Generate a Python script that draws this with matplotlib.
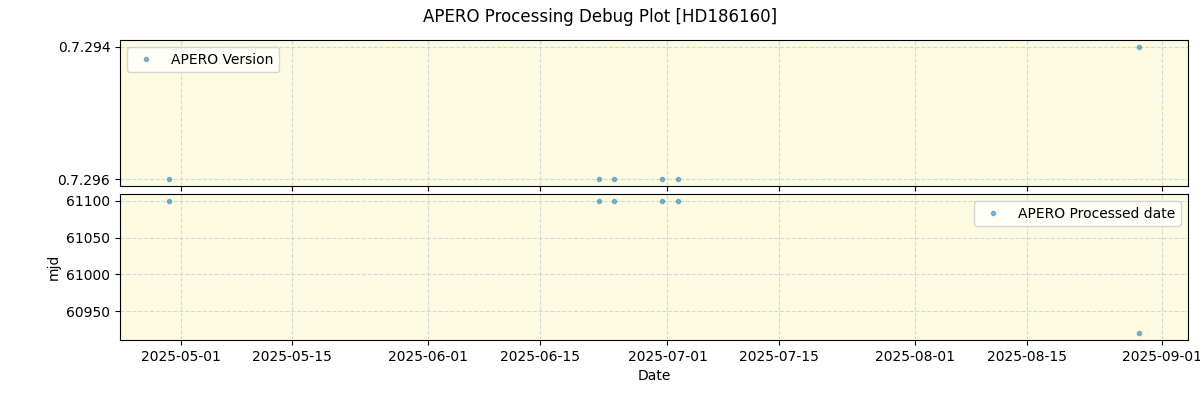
import matplotlib
matplotlib.use('Agg')
import matplotlib.pyplot as plt
import numpy as np
import pandas as pd

dates = pd.to_datetime(['2025-04-29 12:00', '2025-06-22 10:00', '2025-06-24 08:00',
                        '2025-06-30 08:00', '2025-07-02 08:00', '2025-08-29 03:00'])
versions = ['0.7.296', '0.7.296', '0.7.296', '0.7.296', '0.7.296', '0.7.294']
processed_mjd = [61100, 61100, 61100, 61100, 61100, 60920]

fig, axes = plt.subplots(2, 1, figsize=(12, 4), dpi=100, sharex=True)
fig.subplots_adjust(left=0.1, right=0.99, top=0.9, bottom=0.15, hspace=0.055)
fig.suptitle('APERO Processing Debug Plot [HD186160]', y=0.98)

bg = '#fcfbe2'

ax = axes[0]
ax.plot(dates, versions, ls='none', marker='o', ms=3, color='tab:blue', alpha=0.5,
        label='APERO Version')
ax.legend(loc='upper left')

ax = axes[1]
ax.plot(dates, processed_mjd, ls='none', marker='o', ms=3, color='tab:blue', alpha=0.5,
        label='APERO Processed date')
ax.legend(loc='upper right')
ax.set_ylabel('mjd')
ax.set_xlabel('Date')

for ax in axes:
    ax.set_facecolor(bg)
    ax.grid(True, ls='--', color='lightgray', alpha=0.9)
    ax.set_axisbelow(True)

fig.savefig('out.png')
